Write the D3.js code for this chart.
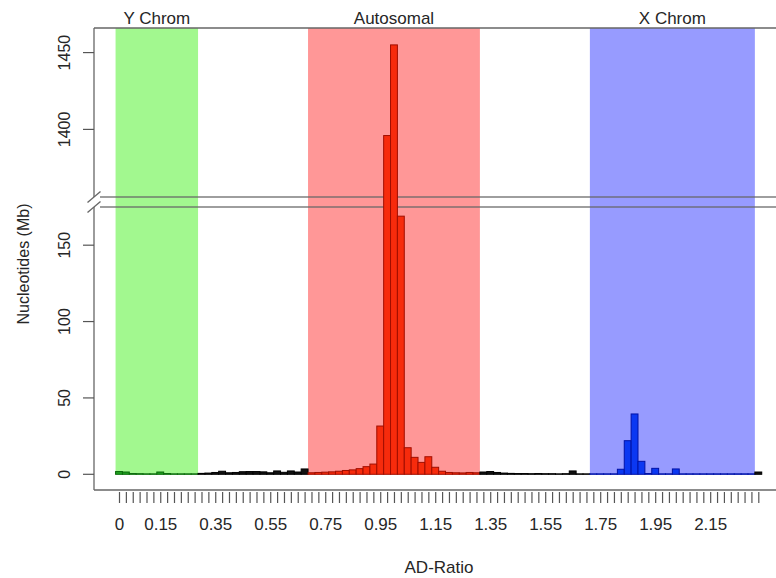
<!DOCTYPE html>
<html>
<head>
<meta charset="utf-8">
<script src="https://cdn.jsdelivr.net/npm/d3@7/dist/d3.min.js"></script>
<style>
  html, body { margin: 0; padding: 0; background: #fff; }
  svg { display: block; }
  text { font-family: "Liberation Sans", Arial, sans-serif; fill: #262626; }
</style>
</head>
<body>
<svg id="chart" width="776" height="578"></svg>
<script>
// ---------------- DATA ----------------
const binWidth = 0.025;
// AD-ratio bin centres 0 .. 2.325 (94 bins, step 0.025)
const binCenters = d3.range(94).map(i => +(i * binWidth).toFixed(3));

// Nucleotides (Mb) per bin
const yChromValues = [1.8, 1.5, 0.5, 0.4, 0.3, 0.3, 1.5, 0.5, 0.3, 0.3, 0.3, 0.3];               // 0 .. 0.275
const gapValuesLow = [0.6, 0.8, 1.2, 2.0, 1.0, 1.2, 1.7, 1.8, 1.8, 1.6, 1.0, 2.2, 1.3, 2.2, 1.5, 3.5]; // 0.3 .. 0.675
const autosomalValues = [1.0, 1.2, 1.4, 1.6, 2.0, 2.5, 2.9, 3.7, 5.0, 6.7, 31.6, 1396, 1455, 169,
                         17.4, 11.1, 7.8, 11.5, 4.6, 2.0, 1.2, 1.0, 0.9, 1.2, 1.0];            // 0.7 .. 1.3
const gapValuesMid = [1.5, 1.8, 1.2, 0.8, 0.6, 0.5, 0.5, 0.4, 0.5, 0.4, 0.4, 0.3, 0.4, 2.2, 0.3, 0.3]; // 1.325 .. 1.7
const xChromValues = [0.3, 0.3, 0.3, 0.3, 3.3, 22, 39.5, 8.5, 0.5, 3.9, 0.3, 0.3, 3.5,
                      0.3, 0.3, 0.3, 0.3, 0.3, 0.3, 0.3, 0.3, 0.3, 0.3, 0.3];                  // 1.725 .. 2.3
const tailValues = [1.5];                                                                        // 2.325

const allValues = [].concat(yChromValues, gapValuesLow, autosomalValues, gapValuesMid, xChromValues, tailValues);

// Highlighted regions (first and last bin centre)
const regionLabels = ["Y Chrom", "Autosomal", "X Chrom"];
const regionStart = [0, 0.7, 1.725];
const regionEnd = [0.275, 1.3, 2.3];

const xTickLabels = ["0", "0.15", "0.35", "0.55", "0.75", "0.95", "1.15", "1.35", "1.55", "1.75", "1.95", "2.15"];
const yTicksLower = [0, 50, 100, 150];
const yTicksUpper = [1400, 1450];

// ---------------- STYLE ----------------
const regionFill = ["#a2f88f", "#ff9797", "#979bff"];
const regionBarFill = ["#1ea01e", "#f72b0c", "#0b38f2"];
const regionBarStroke = ["#0b6a0b", "#a00e00", "#0012a6"];

// ---------------- LAYOUT ----------------
const svg = d3.select("#chart");
const frameLeft = 94, frameRight = 790;

const x = d3.scaleLinear().domain([0, 2.325]).range([119, 758.3]);
// broken axis: lower 0..175, upper 1356..1466
const lowTop = 175, upBottom = 1356, upTop = 1466;
const y = d3.scaleLinear()
  .domain([0, lowTop, upBottom, upTop])
  .range([474.3, 207, 197, 28]);

const frameTop = y(upTop);
const frameBottom = 490;

function regionOf(v) {
  for (let i = 0; i < regionStart.length; i++) {
    if (v >= regionStart[i] - 1e-9 && v <= regionEnd[i] + 1e-9) return i;
  }
  return -1;
}

// region backgrounds
const gReg = svg.append("g");
regionLabels.forEach((lab, i) => {
  const x0 = x(regionStart[i] - binWidth / 2), x1 = x(regionEnd[i] + binWidth / 2);
  gReg.append("rect")
    .attr("x", x0).attr("y", frameTop)
    .attr("width", x1 - x0).attr("height", y(0) - frameTop)
    .attr("fill", regionFill[i]);
  svg.append("text")
    .attr("x", (x0 + x1) / 2).attr("y", 24)
    .attr("text-anchor", "middle")
    .style("font-size", "17px")
    .text(lab);
});

// frame + break lines
const lineColor = "#666";
const gFrame = svg.append("g").attr("stroke", lineColor).attr("stroke-width", 1.3).attr("fill", "none");
gFrame.append("line").attr("x1", frameLeft).attr("x2", frameRight).attr("y1", frameTop).attr("y2", frameTop);
gFrame.append("line").attr("x1", frameLeft).attr("x2", frameRight).attr("y1", frameBottom).attr("y2", frameBottom);
gFrame.append("line").attr("x1", frameLeft).attr("x2", frameLeft).attr("y1", frameTop).attr("y2", y(upBottom));
gFrame.append("line").attr("x1", frameLeft).attr("x2", frameLeft).attr("y1", y(lowTop)).attr("y2", frameBottom);
[y(upBottom), y(lowTop)].forEach(yb => {
  gFrame.append("line").attr("x1", 100).attr("x2", frameRight).attr("y1", yb).attr("y2", yb)
    .attr("stroke-opacity", 0.85);
  gFrame.append("line").attr("x1", frameLeft - 6.5).attr("x2", frameLeft + 6.5)
    .attr("y1", yb + 5.5).attr("y2", yb - 5.5);
});

// bars
const bars = binCenters.map((c, i) => ({ c, v: allValues[i], r: regionOf(c) }));
svg.append("g").selectAll("rect").data(bars).join("rect")
  .attr("x", d => x(d.c - binWidth / 2))
  .attr("width", d => x(d.c + binWidth / 2) - x(d.c - binWidth / 2))
  .attr("y", d => y(d.v))
  .attr("height", d => y(0) - y(d.v))
  .attr("fill", d => d.r < 0 ? "#111" : regionBarFill[d.r])
  .attr("stroke", d => d.r < 0 ? "#000" : regionBarStroke[d.r])
  .attr("stroke-width", 1);

// x axis
const xAxis = d3.axisBottom(x)
  .tickValues(binCenters)
  .tickSize(11)
  .tickPadding(15)
  .tickFormat(d => {
    const s = String(+d.toFixed(3));
    return xTickLabels.includes(s) ? s : "";
  });
const gx = svg.append("g").attr("transform", "translate(0,492)").call(xAxis);
gx.select(".domain").remove();
gx.selectAll(".tick line").attr("stroke", "#555").attr("stroke-width", 1.2);
gx.selectAll(".tick text").style("font-size", "17px").style("font-family", "Liberation Sans, Arial, sans-serif").attr("fill", "#262626");

// y axis ticks (rotated labels)
const gy = svg.append("g");
yTicksLower.concat(yTicksUpper).forEach(t => {
  const yy = y(t);
  gy.append("line").attr("x1", 83).attr("x2", frameLeft).attr("y1", yy).attr("y2", yy)
    .attr("stroke", "#555").attr("stroke-width", 1.2);
  gy.append("text")
    .attr("transform", `translate(70,${yy}) rotate(-90)`)
    .attr("text-anchor", "middle")
    .style("font-size", "16px")
    .text(t);
});

// axis titles
svg.append("text")
  .attr("x", 439).attr("y", 573)
  .attr("text-anchor", "middle")
  .style("font-size", "17px")
  .text("AD-Ratio");
svg.append("text")
  .attr("transform", "translate(29,264) rotate(-90)")
  .attr("text-anchor", "middle")
  .style("font-size", "16px")
  .text("Nucleotides (Mb)");
</script>
</body>
</html>
